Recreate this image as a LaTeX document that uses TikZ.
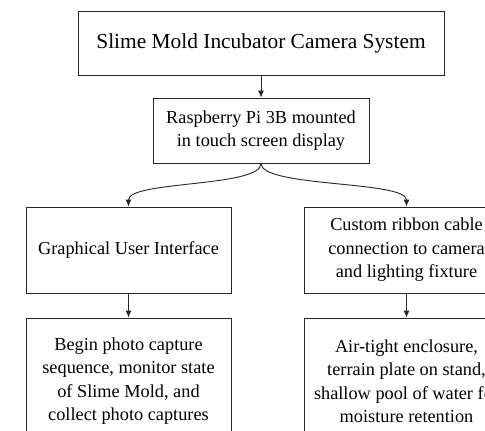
\documentclass[tikz,border=0pt]{standalone}
\usepackage{fontspec}
\setmainfont{Liberation Serif}
\usetikzlibrary{arrows.meta}
\begin{document}
\begin{tikzpicture}[x=1pt,y=-1pt,
  box/.style={draw=black!85, line width=0.9pt, fill=white, inner sep=0pt, align=center,
    font=\fontsize{18.3}{23.5}\selectfont},
  arr/.style={draw=black!85, line width=0.9pt, -{Latex[length=7pt,width=6pt]}}]
\useasboundingbox[fill=white] (0,0) rectangle (485,431);
\clip (0,0) rectangle (485,431);
\node[box, minimum width=366pt, minimum height=64pt, font=\fontsize{21.4}{25}\selectfont] (top) at (261,43) {Slime Mold Incubator Camera System};
\node[box, minimum width=216pt, minimum height=65pt] (pi) at (261,130.5) {Raspberry Pi 3B mounted\\in touch screen display};
\node[box, minimum width=205pt, minimum height=86pt] (gui) at (128.5,250) {Graphical User Interface};
\node[box, minimum width=205pt, minimum height=86pt] (cable) at (406.5,250) {Custom ribbon cable\\connection to camera\\and lighting fixture};
\node[box, minimum width=205pt, minimum height=126pt] (photo) at (128.5,381) {Begin photo capture\\sequence, monitor state\\of Slime Mold, and\\collect photo captures};
\node[box, minimum width=205pt, minimum height=126pt] (encl) at (406.5,381) {Air-tight enclosure,\\terrain plate on stand,\\shallow pool of water for\\moisture retention};
\draw[arr] (top.south) -- (pi.north);
\draw[arr] (pi.south) .. controls +(0,24) and +(0,-26) .. (gui.north);
\draw[arr] (pi.south) .. controls +(0,24) and +(0,-26) .. (cable.north);
\draw[arr] (gui.south) -- (photo.north);
\draw[arr] (cable.south) -- (encl.north);
\end{tikzpicture}
\end{document}
